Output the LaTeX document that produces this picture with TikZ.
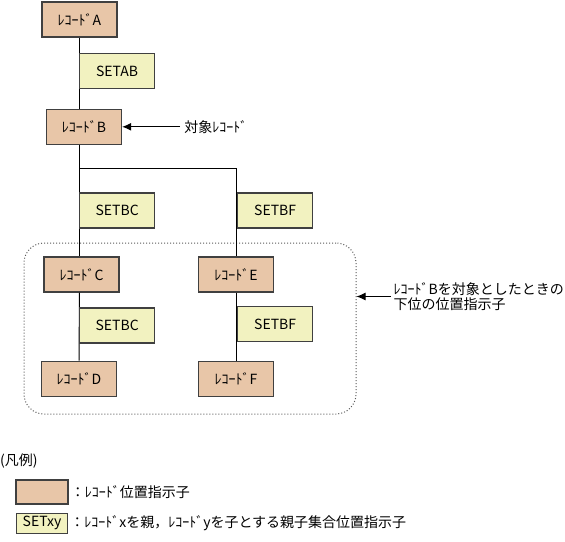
\documentclass[tikz,border=0pt]{standalone}
\usepackage{fontspec}
\setmainfont{Noto Sans CJK JP}
\usepackage{tikz}
\usetikzlibrary{positioning}
\usetikzlibrary{arrows.meta}
\definecolor{recfill}{RGB}{232,198,168}
\definecolor{setfill}{RGB}{242,242,192}
\definecolor{boxline}{RGB}{64,64,64}

\begin{document}
\begin{tikzpicture}[x=1pt, y=-1pt, font=\fontsize{14}{15}\selectfont,
    recbox/.style={draw=boxline, line width=1.3pt, fill=recfill, minimum width=75pt, minimum height=35pt, inner sep=0pt},
    setbox/.style={draw=boxline, line width=1.3pt, fill=setfill, minimum width=75pt, minimum height=35pt, inner sep=0pt, anchor=west},
    conn/.style={line width=1pt},
    pointer/.style={line width=1pt, -{Latex[length=9pt,width=8pt]}}]
    \useasboundingbox (0,0) rectangle (565,541);

    \node(grp) [draw=black!65, dotted, line width=1pt, rounded corners=20pt, minimum width=332pt, minimum height=171pt] at (190,328.5) {};

    \node(A) [recbox] at (79.5,19.5) {ﾚｺｰﾄﾞA};
    \node(B) [recbox, below=71pt of A, xshift=4.5pt] {ﾚｺｰﾄﾞB};
    \node(C) [recbox] at (81.5,274.5) {ﾚｺｰﾄﾞC};
    \node(D) [recbox, below=68pt of C, xshift=-2.5pt] {ﾚｺｰﾄﾞD};
    \node(E) [recbox] at (236,274.5) {ﾚｺｰﾄﾞE};
    \node(F) [recbox, below=68pt of E] {ﾚｺｰﾄﾞF};

    \coordinate(fork) at (79,168);
    \draw[conn](A.south) -- (A.south |- B.north);
    \draw[conn](A.south |- B.south) -- (A.south |- C.north);
    \draw[conn](A.south |- C.south) -- (D.north);
    \draw[conn](fork) -| (E.north);
    \draw[conn](E.south) -- (F.north);

    \node(sAB) [setbox] at (79,71) {SETAB};
    \node(sBC1) [setbox] at (79,210.5) {SETBC};
    \node(sBF1) [setbox] at (237,210.5) {SETBF};
    \node(sBC2) [setbox] at (79,325.5) {SETBC};
    \node(sBF2) [setbox] at (237,324) {SETBF};

    \node(tgt) [right=58pt of B, inner sep=4pt] {対象ﾚｺｰﾄﾞ};
    \draw[pointer](tgt.west) -- (B.east);

    \node(sub) [right=34pt of grp, yshift=32pt, align=left, inner sep=3pt, font=\fontsize{14}{15}\selectfont] {ﾚｺｰﾄﾞBを対象としたときの\\下位の位置指示子};
    \draw[pointer](sub.west) -- (sub.west -| grp.east);

    % legend
    \node(leg) [anchor=west, inner sep=0pt] at (0,461) {(凡例)};
    \node(lrec) [recbox, minimum width=52pt, minimum height=24pt] at (42,492) {};
    \node(lrect) [right=2pt of lrec, inner sep=0pt] {：ﾚｺｰﾄﾞ位置指示子};
    \node(lset) [setbox, anchor=center, minimum width=51pt, minimum height=20pt, below=8pt of lrec] {SETxy};
    \node(lsett) [right=2pt of lset, inner sep=0pt] {：ﾚｺｰﾄﾞxを親，ﾚｺｰﾄﾞyを子とする親子集合位置指示子};
\end{tikzpicture}
\end{document}
